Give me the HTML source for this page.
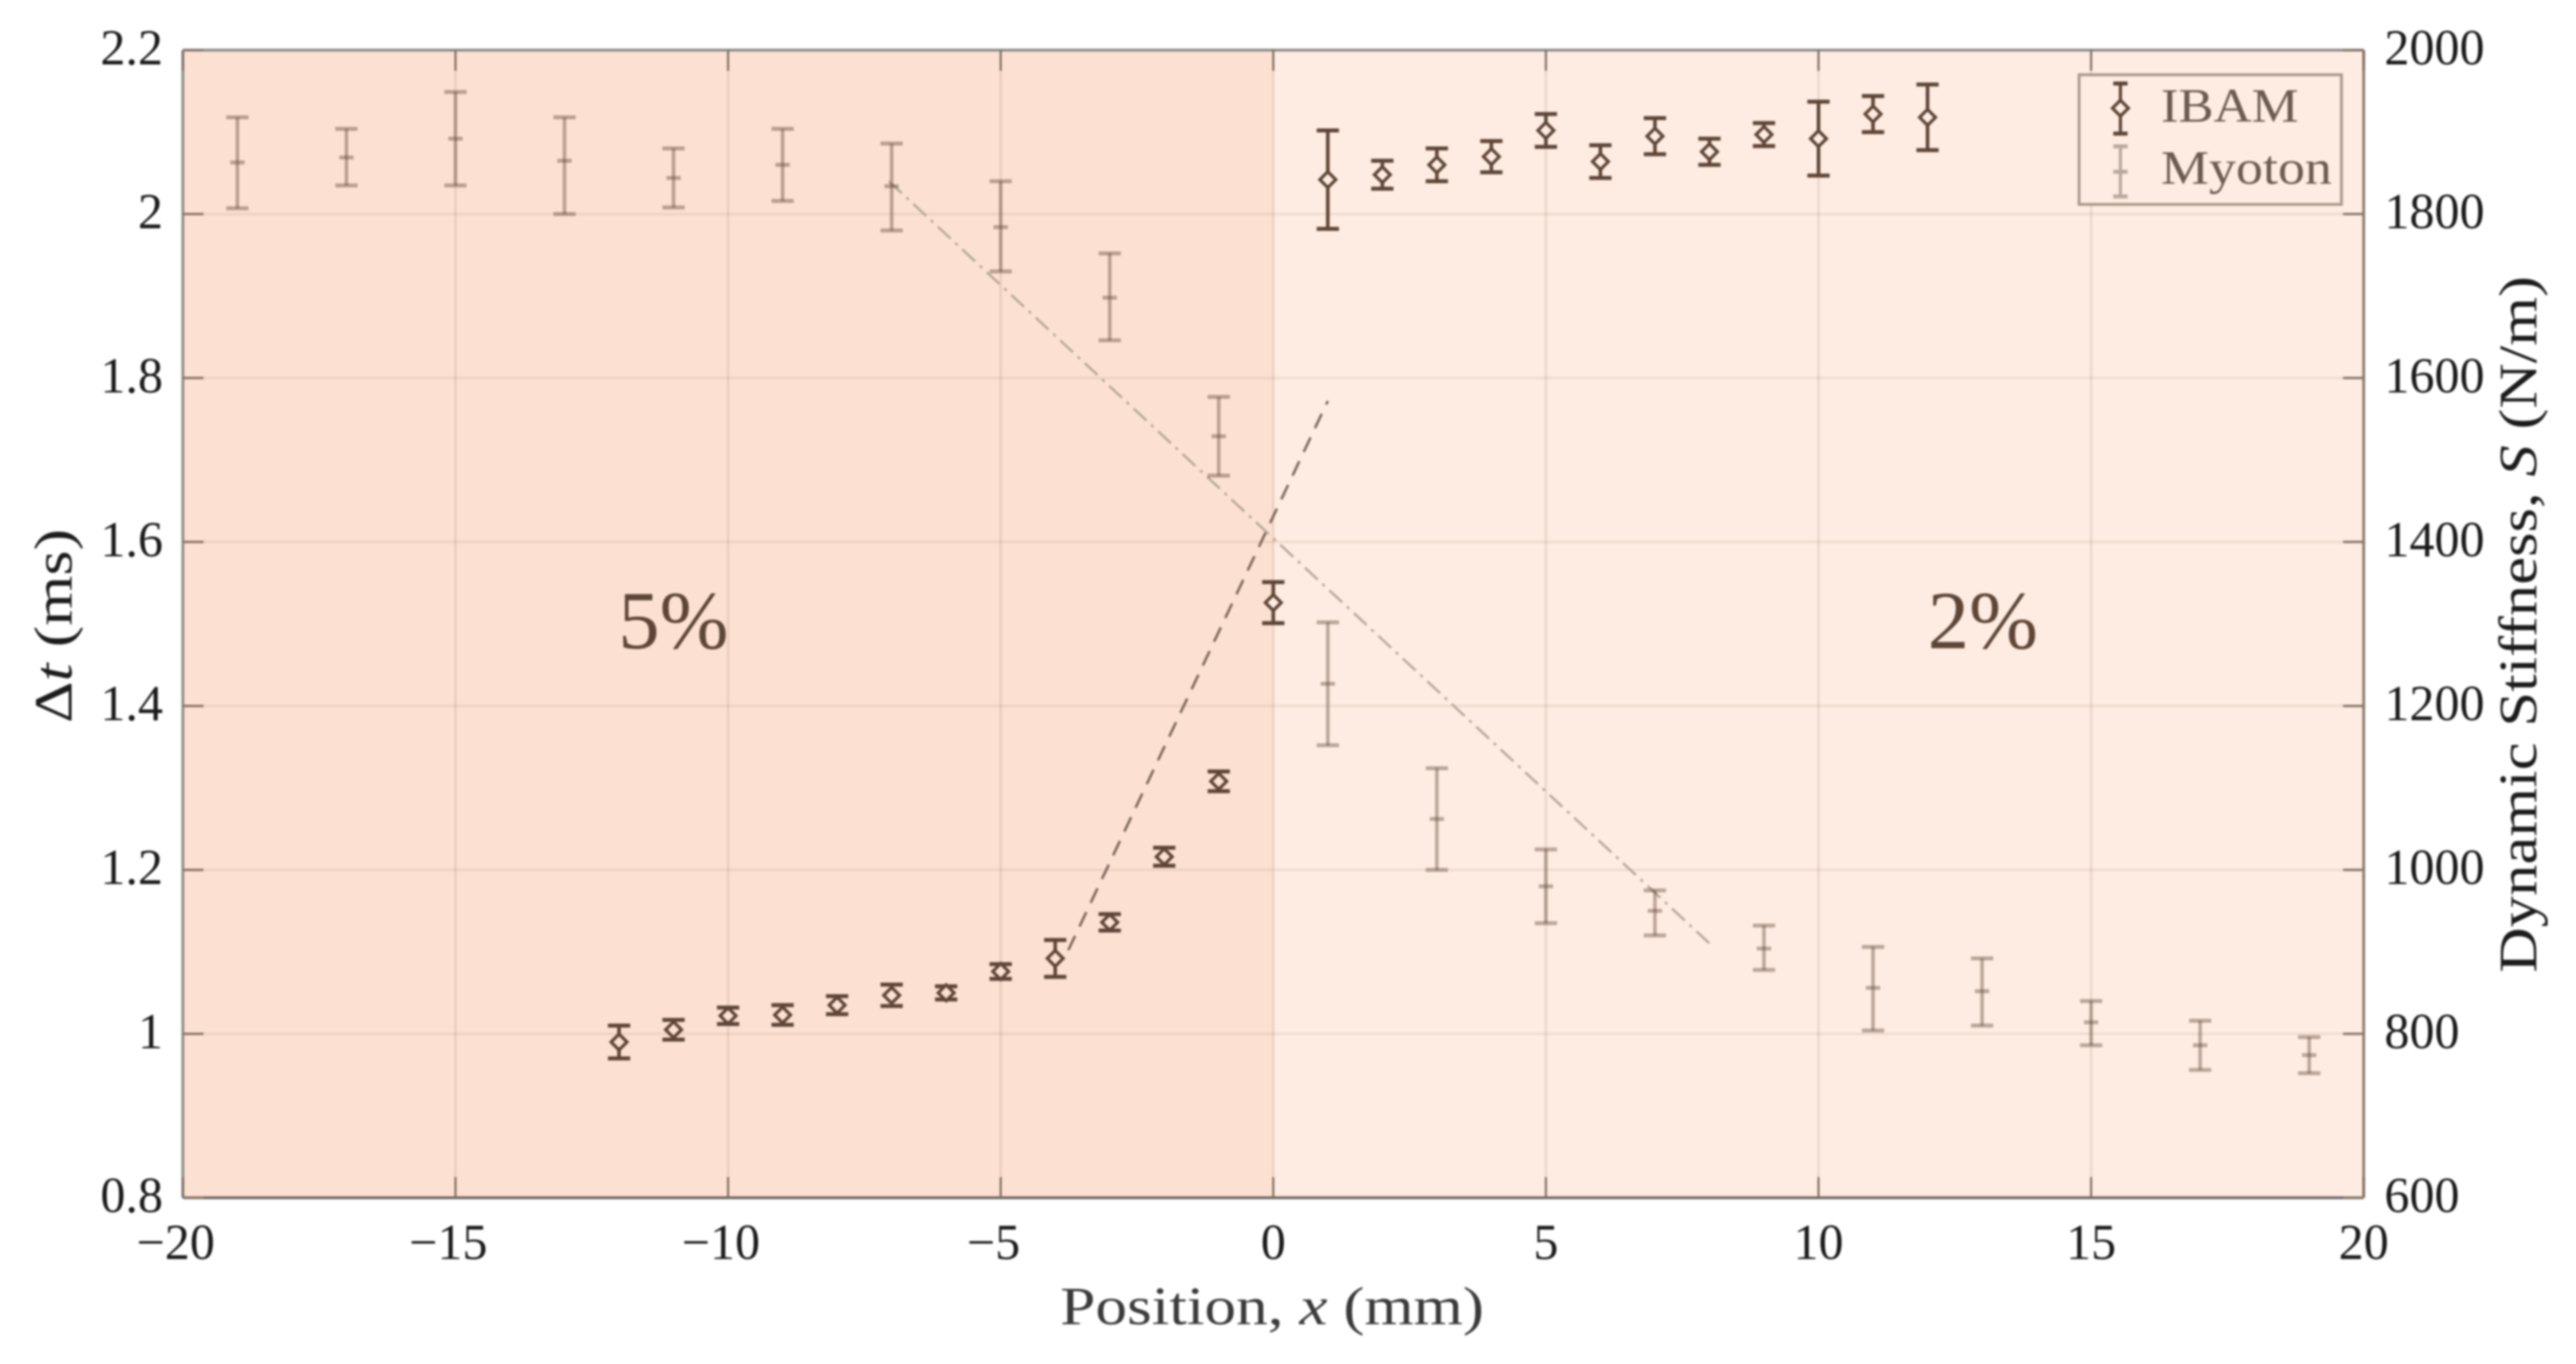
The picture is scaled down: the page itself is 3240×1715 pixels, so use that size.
<!DOCTYPE html>
<html lang="en">
<head>
<meta charset="utf-8">
<title>Δt and Dynamic Stiffness vs Position</title>
<style>
html,body{margin:0;padding:0;background:#fff;}
#chart{display:block;width:3240px;height:1715px;filter:blur(1.4px);font-family:"Liberation Serif",serif;}
</style>
</head>
<body>
<svg id="chart" xmlns="http://www.w3.org/2000/svg" width="3240" height="1715" viewBox="0 0 3240 1715">
  <rect x="0" y="0" width="3240" height="1715" fill="#ffffff"/>
  <g id="regions"></g>
  <g id="grid"></g>
  <g id="trends"></g>
  <g id="myoton"></g>
  <g id="ibam"></g>
  <g id="frame"></g>
  <g id="xticklabels"></g>
  <g id="ylticklabels"></g>
  <g id="yrticklabels"></g>

  <text x="847" y="815" text-anchor="middle" font-size="104" fill="#5d4537">5%</text>
  <text x="2494" y="815" text-anchor="middle" font-size="104" fill="#5d4537">2%</text>

  <text x="1600" y="1665" text-anchor="middle" font-size="68" fill="#3a3a3a" textLength="533" lengthAdjust="spacingAndGlyphs">Position, <tspan font-style="italic">x</tspan> (mm)</text>
  <text transform="translate(90,787) rotate(-90)" text-anchor="middle" font-size="68" fill="#1c1c1c" textLength="244" lengthAdjust="spacingAndGlyphs">Δ<tspan font-style="italic">t</tspan> (ms)</text>
  <text transform="translate(3190,785) rotate(-90)" text-anchor="middle" font-size="68" fill="#1c1c1c" textLength="876" lengthAdjust="spacingAndGlyphs">Dynamic Stiffness, <tspan font-style="italic">S</tspan> (N/m)</text>

  <g id="legend">
    <rect x="2615" y="94" width="330" height="163" fill="#feece2" stroke="#a8968a" stroke-width="3.5"/>
    <g>
      <line x1="2667" y1="105" x2="2667" y2="168" stroke="#5d4537" stroke-width="4"/>
      <line x1="2658" y1="105" x2="2676" y2="105" stroke="#5d4537" stroke-width="5"/>
      <line x1="2658" y1="168" x2="2676" y2="168" stroke="#5d4537" stroke-width="5"/>
      <polygon points="2667,126 2677,136 2667,146 2657,136" fill="#feece2" stroke="#5d4537" stroke-width="4"/>
      <text x="2718" y="153" font-size="60" fill="#6b5a50" textLength="173" lengthAdjust="spacingAndGlyphs">IBAM</text>
    </g>
    <g>
      <line x1="2667" y1="184" x2="2667" y2="247" stroke="#b9a99d" stroke-width="4"/>
      <line x1="2658" y1="184" x2="2676" y2="184" stroke="#b9a99d" stroke-width="5"/>
      <line x1="2658" y1="247" x2="2676" y2="247" stroke="#b9a99d" stroke-width="5"/>
      <line x1="2658" y1="216" x2="2676" y2="216" stroke="#b9a99d" stroke-width="5"/>
      <text x="2718" y="231" font-size="60" fill="#6b5a50" textLength="215" lengthAdjust="spacingAndGlyphs">Myoton</text>
    </g>
  </g>
</svg>

<script>
/* ---------- chart data ---------- */
const xTickValues = [-20, -15, -10, -5, 0, 5, 10, 15, 20];
const leftTickValues = [0.8, 1, 1.2, 1.4, 1.6, 1.8, 2, 2.2];
const leftTickLabels = ['0.8', '1', '1.2', '1.4', '1.6', '1.8', '2', '2.2'];
const rightTickValues = [600, 800, 1000, 1200, 1400, 1600, 1800, 2000];
const xDomain = [-20, 20];
const leftDomain = [0.8, 2.2];
const rightDomain = [600, 2000];

const ibamPositions = [-12, -11, -10, -9, -8, -7, -6, -5, -4, -3, -2, -1, 0, 1, 2, 3, 4, 5, 6, 7, 8, 9, 10, 11, 12];
const ibamValues = [0.99, 1.005, 1.022, 1.023, 1.035, 1.047, 1.05, 1.076, 1.092, 1.136, 1.216, 1.308, 1.526, 2.042, 2.048, 2.06, 2.07, 2.102, 2.064, 2.095, 2.076, 2.097, 2.092, 2.122, 2.118];
const ibamErrors = [0.02, 0.012, 0.01, 0.012, 0.011, 0.013, 0.008, 0.009, 0.0225, 0.01, 0.011, 0.012, 0.025, 0.06, 0.017, 0.02, 0.019, 0.02, 0.02, 0.022, 0.016, 0.014, 0.045, 0.022, 0.04];

const myotonPositions = [-19, -17, -15, -13, -11, -9, -7, -5, -3, -1, 1, 3, 5, 7, 9, 11, 13, 15, 17, 19];
const myotonValues = [1863, 1869, 1892, 1865, 1844, 1860, 1834, 1784, 1698, 1529, 1227, 1062, 980, 950, 904, 856, 852, 814, 786, 774];
const myotonHigh = [1918, 1904, 1949, 1918, 1880, 1904, 1886, 1840, 1752, 1577, 1302, 1124, 1025, 975, 932, 906, 892, 840, 816, 796];
const myotonLow = [1807, 1835, 1835, 1800, 1808, 1816, 1780, 1730, 1646, 1481, 1152, 1000, 935, 920, 878, 804, 810, 786, 756, 752];

const ibamTrendX = [-3.76, 1.0];
const ibamTrendY = [1.102, 1.772];
const myotonTrendX = [-7.05, 8.07];
const myotonTrendY = [1840, 906];

/* ---------- layout ---------- */
const plot = {left: 230, right: 2973, top: 63, bottom: 1506};
const xScale = v => plot.left + (v - xDomain[0]) / (xDomain[1] - xDomain[0]) * (plot.right - plot.left);
const yLeft = v => plot.bottom - (v - leftDomain[0]) / (leftDomain[1] - leftDomain[0]) * (plot.bottom - plot.top);
const yRight = v => plot.bottom - (v - rightDomain[0]) / (rightDomain[1] - rightDomain[0]) * (plot.bottom - plot.top);

const NS = 'http://www.w3.org/2000/svg';
function make(tag, parentId, attrs) {
  const node = document.createElementNS(NS, tag);
  for (const k in attrs) node.setAttribute(k, attrs[k]);
  document.getElementById(parentId).appendChild(node);
  return node;
}
function lineIn(parentId, x1, y1, x2, y2, stroke, width) {
  return make('line', parentId, {x1: x1, y1: y1, x2: x2, y2: y2, stroke: stroke, 'stroke-width': width});
}

/* ---------- regions ---------- */
const leftRegion = make('rect', 'regions', {x: xScale(-20), y: plot.top, width: xScale(0) - xScale(-20), height: plot.bottom - plot.top, fill: '#fce1d2'});


const rightRegion = make('rect', 'regions', {x: xScale(0), y: plot.top, width: xScale(20) - xScale(0), height: plot.bottom - plot.top, fill: '#feece2'});



/* ---------- grid ---------- */
xTickValues.slice(1, -1).forEach(function (v) {
  const g = lineIn('grid', xScale(v), plot.top, xScale(v), plot.bottom, 'rgba(110,70,50,0.13)', 3);
  
  
});
leftTickValues.slice(1, -1).forEach(function (v) {
  const g = lineIn('grid', plot.left, yLeft(v), plot.right, yLeft(v), 'rgba(110,70,50,0.10)', 3);
  
  
});

/* ---------- trend lines ---------- */
const ibamTrend = lineIn('trends', xScale(ibamTrendX[0]), yLeft(ibamTrendY[0]), xScale(ibamTrendX[1]), yLeft(ibamTrendY[1]), '#7d675a', 3.2);
ibamTrend.setAttribute('stroke-dasharray', '20 13');


const myotonTrend = lineIn('trends', xScale(myotonTrendX[0]), yRight(myotonTrendY[0]), xScale(myotonTrendX[1]), yRight(myotonTrendY[1]), '#b8a79b', 3);
myotonTrend.setAttribute('stroke-dasharray', '22 8 4 8');



/* ---------- Myoton series (right axis) ---------- */
const myotonColor = 'rgba(95,70,55,0.42)';
myotonPositions.forEach(function (p, i) {
  const px = xScale(p);
  const hi = yRight(myotonHigh[i]);
  const lo = yRight(myotonLow[i]);
  const mid = yRight(myotonValues[i]);
  const bar = lineIn('myoton', px, hi, px, lo, myotonColor, 4.5);
  
  
  const capTop = lineIn('myoton', px - 14, hi, px + 14, hi, myotonColor, 5);
  
  
  const capBottom = lineIn('myoton', px - 14, lo, px + 14, lo, myotonColor, 5);
  
  
  const mark = lineIn('myoton', px - 9, mid, px + 9, mid, myotonColor, 5);
  
  
});

/* ---------- IBAM series (left axis) ---------- */
const ibamColor = '#5d4537';
ibamPositions.forEach(function (p, i) {
  const px = xScale(p);
  const mid = yLeft(ibamValues[i]);
  const hi = yLeft(ibamValues[i] + ibamErrors[i]);
  const lo = yLeft(ibamValues[i] - ibamErrors[i]);
  const bar = lineIn('ibam', px, hi, px, lo, ibamColor, 4.5);
  
  
  const capTop = lineIn('ibam', px - 14, hi, px + 14, hi, ibamColor, 5);
  
  
  const capBottom = lineIn('ibam', px - 14, lo, px + 14, lo, ibamColor, 5);
  
  
  const pts = [[px, mid - 10], [px + 10, mid], [px, mid + 10], [px - 10, mid]].map(function (c) { return c.join(','); }).join(' ');
  const fillColor = p < 0 ? '#fce1d2' : '#feece2';
  const diamond = make('polygon', 'ibam', {points: pts, fill: fillColor, stroke: ibamColor, 'stroke-width': 4});
  
  
});

/* ---------- frame and ticks ---------- */
const frameTop = lineIn('frame', plot.left, plot.top, plot.right, plot.top, '#8f8a86', 3.5);


const frameBottom = lineIn('frame', plot.left, plot.bottom, plot.right, plot.bottom, '#6c6662', 3.5);


const frameLeft = lineIn('frame', plot.left, plot.top, plot.left, plot.bottom, '#8f8a86', 3.5);


const frameRight = lineIn('frame', plot.right, plot.top, plot.right, plot.bottom, '#8a7a70', 3.5);



xTickValues.forEach(function (v) {
  const tb = lineIn('frame', xScale(v), plot.bottom, xScale(v), plot.bottom - 26, '#7d6a5e', 2.5);
  
  
  const tt = lineIn('frame', xScale(v), plot.top, xScale(v), plot.top + 26, '#7d6a5e', 2.5);
  
  
  const lab = make('text', 'xticklabels', {x: xScale(v) - (v < 0 ? 9 : 0), y: 1583, 'text-anchor': 'middle', 'font-size': 63, fill: '#1a1a1a'});
  lab.textContent = (v < 0 ? '\u2212' : '') + Math.abs(v);
  
  
});
leftTickValues.forEach(function (v, i) {
  const t = lineIn('frame', plot.left, yLeft(v), plot.left + 26, yLeft(v), '#8a7468', 3);
  
  
  const lab = make('text', 'ylticklabels', {x: 205, y: yLeft(v) + 18, 'text-anchor': 'end', 'font-size': 63, fill: '#1a1a1a'});
  lab.textContent = leftTickLabels[i];
  
  
});
rightTickValues.forEach(function (v) {
  const t = lineIn('frame', plot.right, yRight(v), plot.right - 26, yRight(v), '#8a7468', 3);
  
  
  const lab = make('text', 'yrticklabels', {x: 2999, y: yRight(v) + 18, 'text-anchor': 'start', 'font-size': 63, fill: '#1a1a1a'});
  lab.textContent = String(v);
  
  
});
</script>
</body>
</html>
